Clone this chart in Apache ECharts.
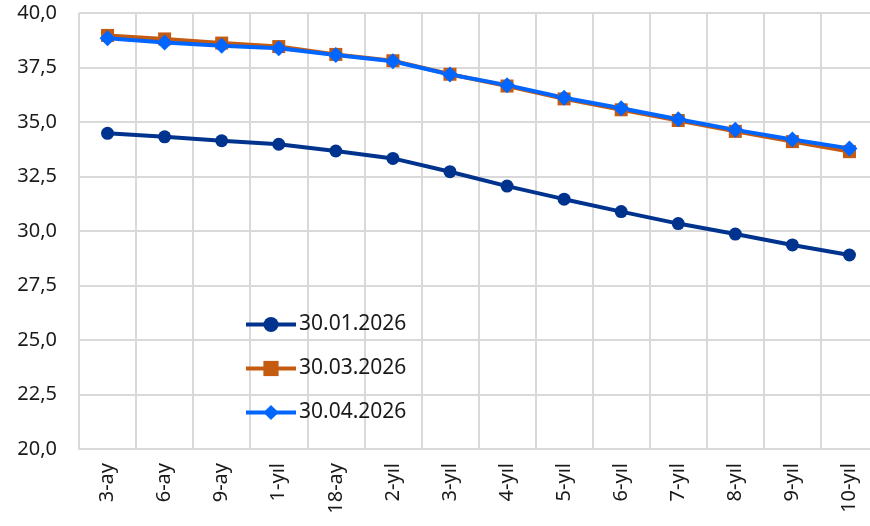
<!DOCTYPE html>
<html>
<head>
<meta charset="utf-8">
<script src="https://cdn.jsdelivr.net/npm/echarts@6/dist/echarts.min.js"></script>
<style>
	html, body { margin: 0; padding: 0; background: #fff; }
	#chart { width: 870px; height: 526px; }
</style>
</head>
<body>
<div id="chart"></div>
<script>
	const vadeler = ['3-ay', '6-ay', '9-ay', '1-yıl', '18-ay', '2-yıl', '3-yıl', '4-yıl', '5-yıl', '6-yıl', '7-yıl', '8-yıl', '9-yıl', '10-yıl']
	const seriNames = ['30.01.2026', '30.03.2026', '30.04.2026']
	const ocak = [34.48, 34.32, 34.14, 33.98, 33.67, 33.33, 32.72, 32.06, 31.46, 30.89, 30.34, 29.86, 29.36, 28.90]
	const mart = [38.97, 38.81, 38.62, 38.46, 38.10, 37.81, 37.19, 36.65, 36.06, 35.56, 35.07, 34.57, 34.10, 33.64]
	const nisan = [38.84, 38.65, 38.50, 38.38, 38.07, 37.79, 37.18, 36.69, 36.11, 35.63, 35.13, 34.64, 34.20, 33.79]

	const fontAile = '"Noto Sans", "Open Sans", sans-serif'
	const renkler = ['#00338D', '#C55A11', '#0066FF']

	var myChart = echarts.init(document.getElementById('chart'))

	var option = {
		animation: false,
		color: renkler,
		textStyle: { fontFamily: fontAile },
		grid: {
			left: 79,
			top: 13,
			width: 799,
			bottom: 77,
			outerBoundsMode: 'none'
		},
		legend: {
			orient: 'vertical',
			left: 244,
			top: 314,
			padding: 0,
			itemWidth: 50,
			itemHeight: 19,
			itemGap: 23,
			lineStyle: { width: 4 },
			textStyle: { color: '#1a1a1a', fontSize: 21, lineHeight: 21, fontFamily: fontAile, padding: [0, 0, 0, -2] },
			data: seriNames
		},
		xAxis: {
			type: 'category',
			data: vadeler,
			boundaryGap: true,
			axisLine: { lineStyle: { color: '#d9d9d9', width: 2 } },
			axisTick: { show: false },
			splitLine: { show: true, lineStyle: { color: '#d9d9d9', width: 2 } },
			axisLabel: {
				rotate: 90,
				interval: 0,
				margin: 14,
				color: '#1a1a1a',
				fontSize: 20,
				fontFamily: fontAile
			}
		},
		yAxis: {
			type: 'value',
			min: 20,
			max: 40,
			interval: 2.5,
			axisLine: { show: false },
			axisTick: { show: false },
			splitLine: { lineStyle: { color: '#d9d9d9', width: 2 } },
			axisLabel: {
				margin: 22,
				color: '#1a1a1a',
				fontSize: 20,
				fontFamily: fontAile,
				formatter: function(v) {
					return v.toFixed(1).replace('.', ',')
				}
			}
		},
		series: [{
				name: seriNames[0],
				type: 'line',
				data: ocak,
				symbol: 'circle',
				symbolSize: 13,
				lineStyle: { width: 4 }
			},
			{
				name: seriNames[1],
				type: 'line',
				data: mart,
				symbol: 'rect',
				symbolSize: 13,
				lineStyle: { width: 4 }
			},
			{
				name: seriNames[2],
				type: 'line',
				data: nisan,
				symbol: 'diamond',
				symbolSize: 16,
				lineStyle: { width: 4 }
			}
		]
	}

	myChart.setOption(option)
</script>
</body>
</html>
